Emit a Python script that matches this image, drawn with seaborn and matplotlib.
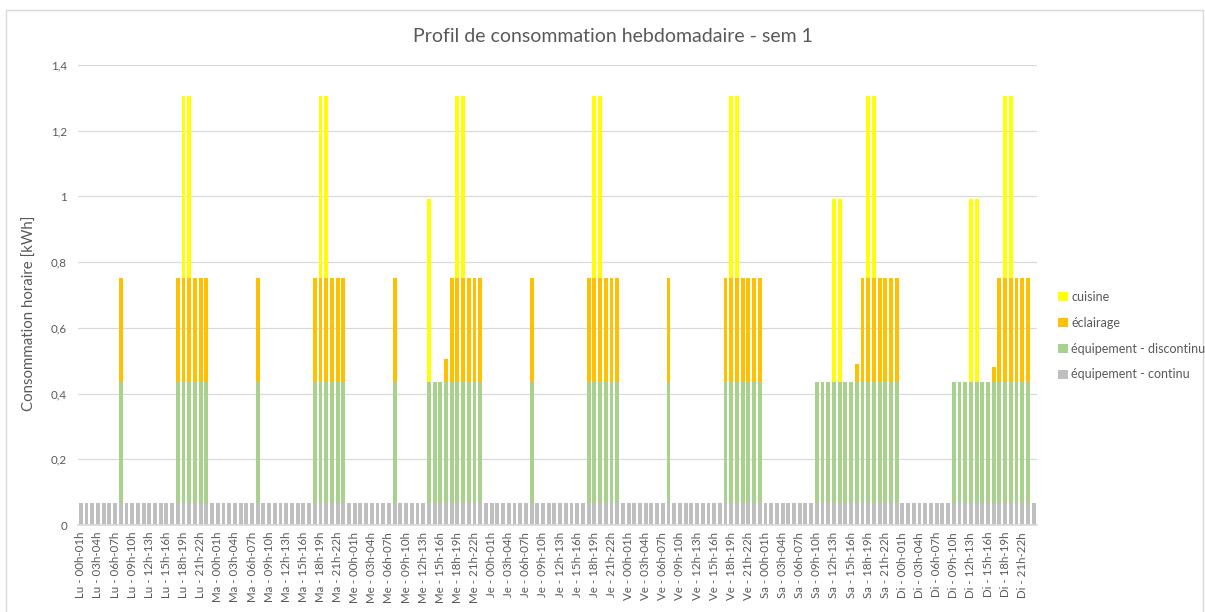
"""
Profil de consommation hebdomadaire (sem 1) - barres empilées horaires.
"""
import pandas as pd
import matplotlib
matplotlib.use("Agg")
import matplotlib.pyplot as plt
from matplotlib.patches import Patch, Rectangle
import seaborn as sns

DAYS = ["Lu", "Ma", "Me", "Je", "Ve", "Sa", "Di"]

# Wh par créneau horaire, une ligne par jour (00h -> 23h)
CONTINU = [
    66, 66, 66, 66, 66, 66, 66, 66, 66, 66, 66, 66, 66, 66, 66, 66, 66, 66, 66, 66, 66, 66, 66, 66,
    66, 66, 66, 66, 66, 66, 66, 66, 66, 66, 66, 66, 66, 66, 66, 66, 66, 66, 66, 66, 66, 66, 66, 66,
    66, 66, 66, 66, 66, 66, 66, 66, 66, 66, 66, 66, 66, 66, 66, 66, 66, 66, 66, 66, 66, 66, 66, 66,
    66, 66, 66, 66, 66, 66, 66, 66, 66, 66, 66, 66, 66, 66, 66, 66, 66, 66, 66, 66, 66, 66, 66, 66,
    66, 66, 66, 66, 66, 66, 66, 66, 66, 66, 66, 66, 66, 66, 66, 66, 66, 66, 66, 66, 66, 66, 66, 66,
    66, 66, 66, 66, 66, 66, 66, 66, 66, 66, 66, 66, 66, 66, 66, 66, 66, 66, 66, 66, 66, 66, 66, 66,
    66, 66, 66, 66, 66, 66, 66, 66, 66, 66, 66, 66, 66, 66, 66, 66, 66, 66, 66, 66, 66, 66, 66, 66,
]
DISCONTINU = [
    0, 0, 0, 0, 0, 0, 0, 370, 0, 0, 0, 0, 0, 0, 0, 0, 0, 370, 370, 370, 370, 370, 370, 0,
    0, 0, 0, 0, 0, 0, 0, 370, 0, 0, 0, 0, 0, 0, 0, 0, 0, 370, 370, 370, 370, 370, 370, 0,
    0, 0, 0, 0, 0, 0, 0, 370, 0, 0, 0, 0, 0, 370, 370, 370, 370, 370, 370, 370, 370, 370, 370, 0,
    0, 0, 0, 0, 0, 0, 0, 370, 0, 0, 0, 0, 0, 0, 0, 0, 0, 370, 370, 370, 370, 370, 370, 0,
    0, 0, 0, 0, 0, 0, 0, 370, 0, 0, 0, 0, 0, 0, 0, 0, 0, 370, 370, 370, 370, 370, 370, 370,
    0, 0, 0, 0, 0, 0, 0, 0, 0, 370, 370, 370, 370, 370, 370, 370, 370, 370, 370, 370, 370, 370, 370, 370,
    0, 0, 0, 0, 0, 0, 0, 0, 0, 370, 370, 370, 370, 370, 370, 370, 370, 370, 370, 370, 370, 370, 370, 0,
]
ECLAIRAGE = [
    0, 0, 0, 0, 0, 0, 0, 315, 0, 0, 0, 0, 0, 0, 0, 0, 0, 315, 315, 315, 315, 315, 315, 0,
    0, 0, 0, 0, 0, 0, 0, 315, 0, 0, 0, 0, 0, 0, 0, 0, 0, 315, 315, 315, 315, 315, 315, 0,
    0, 0, 0, 0, 0, 0, 0, 315, 0, 0, 0, 0, 0, 0, 0, 0, 68, 315, 315, 315, 315, 315, 315, 0,
    0, 0, 0, 0, 0, 0, 0, 315, 0, 0, 0, 0, 0, 0, 0, 0, 0, 315, 315, 315, 315, 315, 315, 0,
    0, 0, 0, 0, 0, 0, 0, 315, 0, 0, 0, 0, 0, 0, 0, 0, 0, 315, 315, 315, 315, 315, 315, 315,
    0, 0, 0, 0, 0, 0, 0, 0, 0, 0, 0, 0, 0, 0, 0, 0, 54, 315, 315, 315, 315, 315, 315, 315,
    0, 0, 0, 0, 0, 0, 0, 0, 0, 0, 0, 0, 0, 0, 0, 0, 44, 315, 315, 315, 315, 315, 315, 0,
]
CUISINE = [
    0, 0, 0, 0, 0, 0, 0, 0, 0, 0, 0, 0, 0, 0, 0, 0, 0, 0, 555, 555, 0, 0, 0, 0,
    0, 0, 0, 0, 0, 0, 0, 0, 0, 0, 0, 0, 0, 0, 0, 0, 0, 0, 555, 555, 0, 0, 0, 0,
    0, 0, 0, 0, 0, 0, 0, 0, 0, 0, 0, 0, 0, 555, 0, 0, 0, 0, 555, 555, 0, 0, 0, 0,
    0, 0, 0, 0, 0, 0, 0, 0, 0, 0, 0, 0, 0, 0, 0, 0, 0, 0, 555, 555, 0, 0, 0, 0,
    0, 0, 0, 0, 0, 0, 0, 0, 0, 0, 0, 0, 0, 0, 0, 0, 0, 0, 555, 555, 0, 0, 0, 0,
    0, 0, 0, 0, 0, 0, 0, 0, 0, 0, 0, 0, 555, 555, 0, 0, 0, 0, 555, 555, 0, 0, 0, 0,
    0, 0, 0, 0, 0, 0, 0, 0, 0, 0, 0, 0, 555, 555, 0, 0, 0, 0, 555, 555, 0, 0, 0, 0,
]

YTICKS = [0, 0.2, 0.4, 0.6, 0.8, 1.0, 1.2, 1.4]
YTICK_LABELS = ["0", "0,2", "0,4", "0,6", "0,8", "1", "1,2", "1,4"]

SERIES = ["cuisine", "éclairage", "équipement - discontinu", "équipement - continu"]
COLORS = {"cuisine": "#FFFF00", "éclairage": "#FFC000",
          "équipement - discontinu": "#A9D18E", "équipement - continu": "#BFBFBF"}
TXT = "#595959"

sns.set_theme(style="white")
plt.rcParams["font.family"] = ["Lato", "DejaVu Sans"]

slots = [f"{h:02d}h-{h + 1:02d}h" for h in range(24)]
labels = [f"{d} - {s}" for d in DAYS for s in slots]

df = pd.DataFrame({
    "creneau": labels,
    "équipement - continu": CONTINU,
    "équipement - discontinu": DISCONTINU,
    "éclairage": ECLAIRAGE,
    "cuisine": CUISINE,
})
kwh = df[SERIES[::-1]] / 1000
tops = kwh.cumsum(axis=1)   # hauteur cumulée, du bas vers le haut
tops["creneau"] = df["creneau"]

W, H = 1205, 612
fig = plt.figure(figsize=(W / 100, H / 100), dpi=100)
ax = fig.add_axes([78 / W, 1 - 525 / H, 958.5 / W, 460 / H])

# barres superposées : la plus haute d'abord
for s in SERIES:
    sns.barplot(data=tops, x="creneau", y=s, color=COLORS[s], saturation=1,
                width=0.68, errorbar=None, linewidth=0, ax=ax, zorder=2)

ax.set_ylim(0, 1.4)
ax.set_xlim(-0.5, len(labels) - 0.5)
ax.set_yticks(YTICKS)
ax.set_yticklabels(YTICK_LABELS)
ax.set_xticks(range(0, len(labels), 3))
ax.set_xticklabels(labels[::3], rotation=90)
ax.tick_params(axis="both", length=0, labelsize=8.3, colors=TXT)
ax.tick_params(axis="y", pad=8)
ax.tick_params(axis="x", pad=5)
ax.set_xlabel("")
ax.set_ylabel("Consommation horaire [kWh]", fontsize=10.8, color=TXT)
ax.yaxis.set_label_coords(-0.043, 0.46)

ax.yaxis.grid(True, color="#d9d9d9", lw=0.9)
ax.set_axisbelow(True)
for side in ["left", "right", "top"]:
    ax.spines[side].set_visible(False)
ax.spines["bottom"].set_color("#d9d9d9")

fig.text(613 / W, 1 - 37 / H, "Profil de consommation hebdomadaire - sem 1",
         ha="center", va="center", fontsize=14, color=TXT)

handles = [Patch(facecolor=COLORS[s], edgecolor="none", label=s) for s in SERIES]
fig.legend(handles=handles, loc="upper left", bbox_to_anchor=(1047 / W, 1 - 280 / H),
           frameon=False, fontsize=9, handlelength=0.75, handleheight=0.75,
           handletextpad=0.3, labelspacing=1.1, labelcolor=TXT)

# cadre du graphique
fig.patches.append(Rectangle((6 / W, -0.05), (1203 - 6) / W, 1.05 - 10 / H,
                             transform=fig.transFigure, fill=False,
                             edgecolor="#d9d9d9", lw=1))

fig.savefig("out.png", dpi=100)
